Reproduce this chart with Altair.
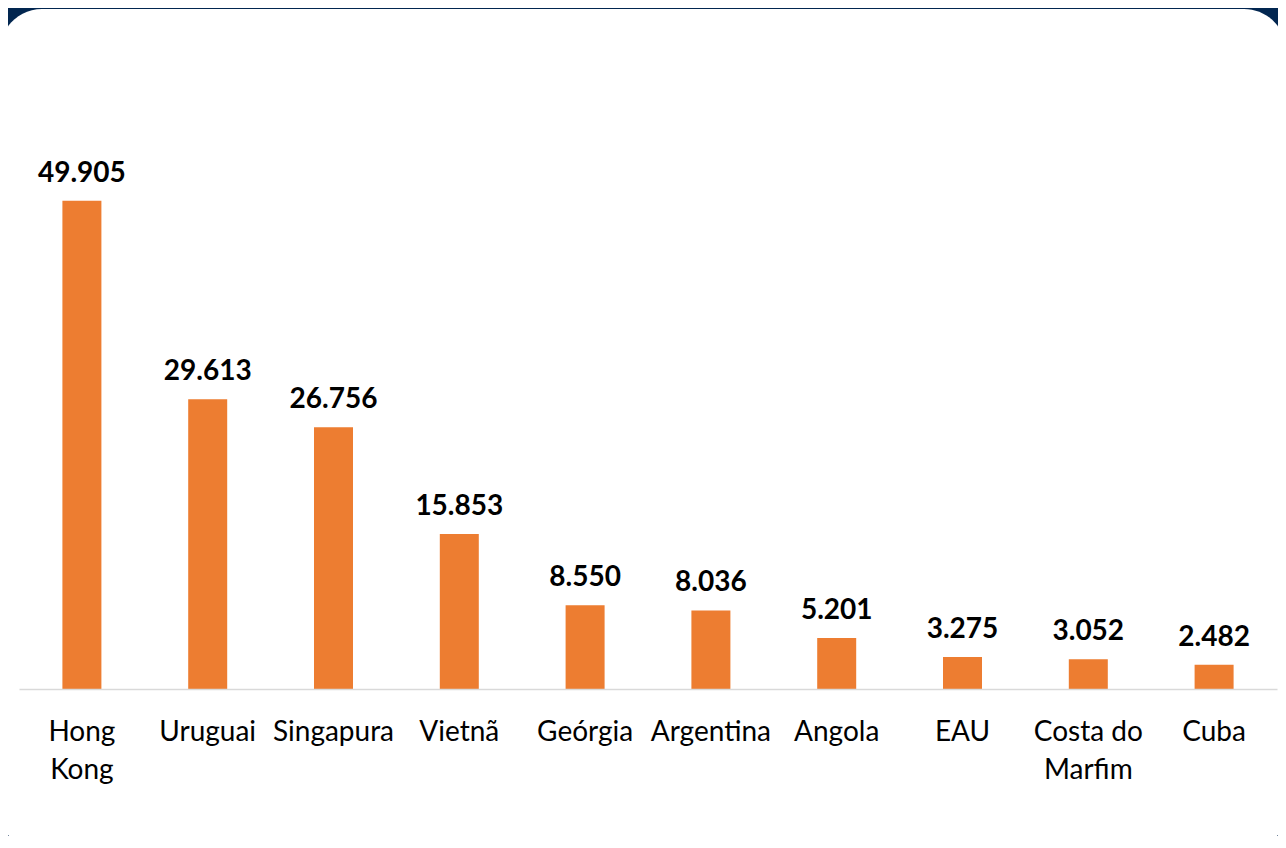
import altair as alt
import pandas as pd

countries = ["Hong Kong", "Uruguai", "Singapura", "Vietnã", "Geórgia",
             "Argentina", "Angola", "EAU", "Costa do Marfim", "Cuba"]
values = [49.905, 29.613, 26.756, 15.853, 8.550, 8.036, 5.201, 3.275, 3.052, 2.482]
value_labels = ["49.905", "29.613", "26.756", "15.853", "8.550",
                "8.036", "5.201", "3.275", "3.052", "2.482"]

df = pd.DataFrame({"pais": countries, "valor": values, "rotulo": value_labels})

W, H = 1258, 587
FONT = "Lato"

x_enc = alt.X(
    "pais:N", sort=countries,
    scale=alt.Scale(paddingInner=0.69, paddingOuter=0.345),
    axis=alt.Axis(
        title=None, labelAngle=0, ticks=False, domainColor="#d9d9d9", domainWidth=1.5,
        labelFont=FONT, labelFontSize=28, labelColor="#000000", labelPadding=51,
        labelBaseline="alphabetic", labelLineHeight=38, labelLimit=0, zindex=1,
        labelExpr="datum.label == 'Hong Kong' ? ['Hong', 'Kong'] : datum.label == 'Costa do Marfim' ? ['Costa do', 'Marfim'] : datum.label",
    ),
)
y_enc = alt.Y("valor:Q", scale=alt.Scale(domain=[0, 60]), axis=None)

card = alt.Chart(pd.DataFrame({"a": [0]})).mark_rect(color="white", cornerRadius=42).encode(
    x=alt.value(-19), x2=alt.value(1267), y=alt.value(-93), y2=alt.value(750)
)

bars = alt.Chart(df).mark_bar(color="#ED7D31").encode(x=x_enc, y=y_enc)
text = alt.Chart(df).mark_text(
    dy=-19, baseline="alphabetic", fontWeight="bold", fontSize=28, font=FONT, color="#000000"
).encode(x=x_enc, y=y_enc, text="rotulo:N")

chart = alt.layer(card, bars, text).properties(
    width=W, height=H,
    padding={"left": 11, "top": 94, "right": 1, "bottom": 147},
    autosize=alt.AutoSizeParams(type="none"),
    background="#022650",
).configure_view(stroke=None)

chart.save("out.html", embed_options={"renderer": "svg", "actions": False})
